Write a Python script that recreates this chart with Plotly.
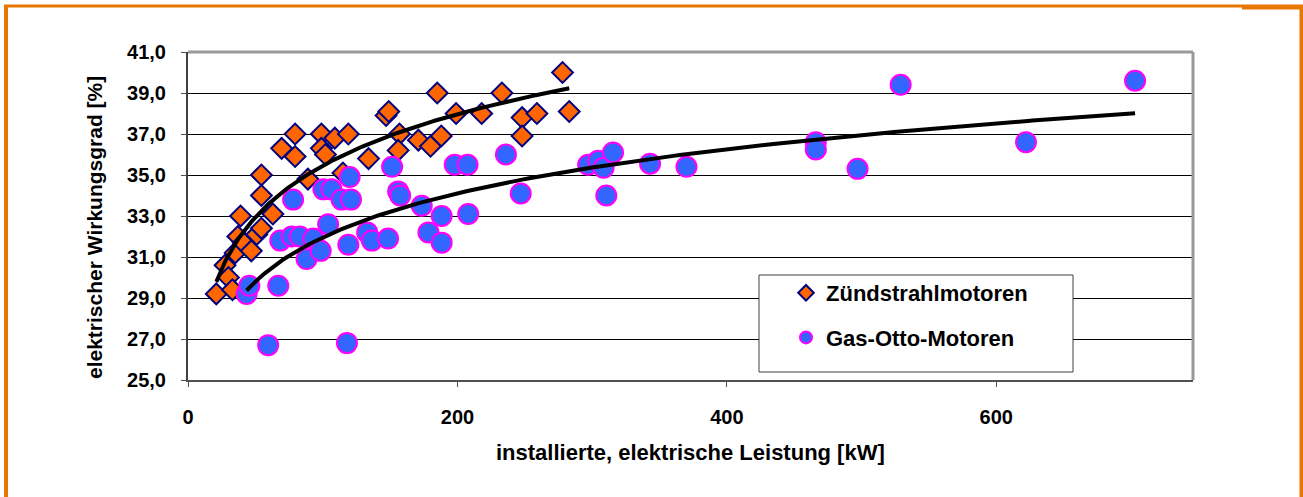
# Wirkungsgrad vs. installierte Leistung - Zündstrahl- und Gas-Otto-Motoren
import numpy as np
import plotly.graph_objects as go

# Zündstrahlmotoren: installierte Leistung [kW] / el. Wirkungsgrad [%]
zs_kw = [21, 27.5, 30, 33, 35, 37, 39, 41, 47, 51, 54.5, 54.5, 54.5, 63, 69.5,
         79.5, 79.5, 89, 99, 99, 102, 109, 115, 119, 134, 147, 149, 157, 156,
         171, 180, 185, 188, 199, 218, 233, 248, 248, 259, 278, 283]
zs_eta = [29.2, 30.6, 30.0, 29.4, 31.2, 32.0, 33.0, 31.7, 31.3, 32.1, 35.0, 34.0, 32.4, 33.1, 36.3,
          37.0, 35.9, 34.8, 37.0, 36.3, 36.0, 36.8, 35.1, 37.0, 35.8, 37.9, 38.1, 37.0, 36.2,
          36.7, 36.4, 39.0, 36.9, 38.0, 38.0, 39.0, 37.8, 36.9, 38.0, 40.0, 38.1]

# Gas-Otto-Motoren
otto_kw = [43.5, 45.5, 59.5, 67, 68.5, 78, 77, 83, 88, 93, 98.5, 100.5, 106.5, 104, 114,
           118, 119, 120, 121, 133, 136.5, 148.5, 151.5, 156, 157.5, 173.5, 178.5, 188.3,
           188.3, 198, 207.5, 208, 236, 247, 297, 304.5, 308.5, 315.5, 310.5, 343, 370,
           466, 466, 497, 529, 622, 703]
otto_eta = [29.2, 29.6, 26.7, 29.6, 31.8, 33.8, 32.0, 32.0, 30.9, 31.9, 31.3, 34.3, 34.3, 32.6, 33.8,
            26.8, 31.6, 34.9, 33.8, 32.2, 31.8, 31.9, 35.4, 34.2, 34.0, 33.5, 32.2, 33.0,
            31.7, 35.5, 35.5, 33.1, 36.0, 34.1, 35.5, 35.7, 35.35, 36.1, 34.0, 35.55, 35.4,
            36.6, 36.25, 35.3, 39.4, 36.6, 39.6]

x_ticks = [0, 200, 400, 600]
y_ticks = [25, 27, 29, 31, 33, 35, 37, 39, 41]

FONT = "Liberation Sans, Arial, sans-serif"
ORANGE_FRAME = "#E87700"


def log_trend(x, y):
    # logarithmische Trendlinie wie in Excel: y = a + b*ln(x)
    x = np.asarray(x, dtype=float)
    b, a = np.polyfit(np.log(x), np.asarray(y, dtype=float), 1)
    xs = np.linspace(x.min(), x.max(), 200)
    return xs, a + b * np.log(xs)


fig = go.Figure()

fig.add_trace(go.Scatter(
    x=zs_kw, y=zs_eta, mode="markers", name="Zündstrahlmotoren",
    legendgroup="zs",
    marker=dict(symbol="diamond", size=16, color="#FF6600",
                line=dict(color="#000080", width=2)),
))
fig.add_trace(go.Scatter(
    x=otto_kw, y=otto_eta, mode="markers", name="Gas-Otto-Motoren",
    legendgroup="otto",
    marker=dict(symbol="circle", size=20, color="#3366FF",
                line=dict(color="#FF00FF", width=2)),
))

for kw, eta in [(zs_kw, zs_eta), (otto_kw, otto_eta)]:
    tx, ty = log_trend(kw, eta)
    fig.add_trace(go.Scatter(x=tx, y=ty, mode="lines", showlegend=False,
                             line=dict(color="#000000", width=4), hoverinfo="skip"))

# px -> paper helpers (plot area 188..1193 x 52..380)
L, R, T, B = 188, 1193, 52, 380


def px_x(p):
    return (p - L) / (R - L)


def px_y(p):
    return (B - p) / (B - T)


shapes = [
    # Rahmen des Diagrammbereichs oben/rechts
    dict(type="line", xref="paper", yref="paper", x0=0, x1=1, y0=1, y1=1,
         line=dict(color="#999999", width=3)),
    dict(type="line", xref="paper", yref="paper", x0=1, x1=1, y0=0, y1=1,
         line=dict(color="#999999", width=3)),
    # Legendenkasten
    dict(type="rect", xref="paper", yref="paper", layer="above",
         x0=px_x(759), x1=px_x(1073), y0=px_y(372), y1=px_y(275),
         fillcolor="#ffffff", line=dict(color="#404040", width=1)),
    # orangefarbener Rahmen
    dict(type="line", xref="paper", yref="paper", x0=px_x(6), x1=px_x(6),
         y0=px_y(500), y1=px_y(5), line=dict(color=ORANGE_FRAME, width=4)),
    dict(type="line", xref="paper", yref="paper", x0=px_x(4), x1=px_x(1303),
         y0=px_y(6), y1=px_y(6), line=dict(color=ORANGE_FRAME, width=3)),
    dict(type="line", xref="paper", yref="paper", x0=px_x(1242), x1=px_x(1303),
         y0=px_y(8), y1=px_y(8), line=dict(color=ORANGE_FRAME, width=3)),
    dict(type="line", xref="paper", yref="paper", x0=px_x(1301.5), x1=px_x(1301.5),
         y0=px_y(500), y1=px_y(5), line=dict(color=ORANGE_FRAME, width=4)),
]

fig.update_layout(
    width=1303, height=497,
    margin=dict(l=L, r=1303 - R, t=T, b=497 - B),
    plot_bgcolor="#ffffff", paper_bgcolor="#ffffff",
    separators=",.",
    font=dict(family=FONT, size=20, color="#000000", weight="bold"),
    showlegend=True,
    legend=dict(x=px_x(786), y=px_y(272), xanchor="left", yanchor="top",
                bgcolor="rgba(0,0,0,0)", borderwidth=0,
                font=dict(family=FONT, size=22, weight="bold"),
                traceorder="grouped", tracegroupgap=13, itemsizing="constant"),
    shapes=shapes,
    annotations=[
        dict(text="installierte, elektrische Leistung [kW]", xref="paper", yref="paper",
             x=0.5, y=px_y(452), showarrow=False, xanchor="center", yanchor="middle",
             font=dict(family=FONT, size=22, weight="bold")),
        dict(text="elektrischer Wirkungsgrad [%]", xref="paper", yref="paper",
             x=px_x(94), y=px_y(228), showarrow=False, textangle=-90,
             xanchor="center", yanchor="middle",
             font=dict(family=FONT, size=21, weight="bold")),
    ],
)

fig.update_xaxes(range=[0, 746], tickvals=x_ticks, showgrid=False, zeroline=False,
                 showline=True, linecolor="#505050", linewidth=2,
                 ticks="outside", ticklen=5, tickcolor="#505050",
                 ticklabelstandoff=13)
fig.update_yaxes(range=[25, 41], tickvals=y_ticks, tickformat=".1f",
                 showgrid=True, gridcolor="#000000", gridwidth=1, zeroline=False,
                 showline=True, linecolor="#404040", linewidth=2,
                 ticks="outside", ticklen=5, tickcolor="#505050",
                 ticklabelstandoff=11)

# page without body margin so the figure sits at (0, 0) like the reference
fig.write_html("out.html", config={"displayModeBar": False},
               post_script="document.body.style.margin='0';")
